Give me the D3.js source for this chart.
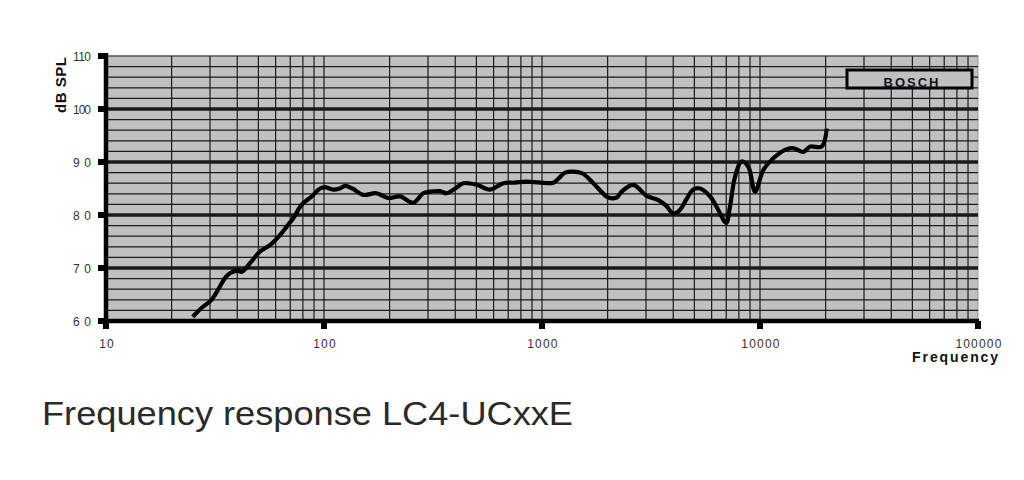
<!DOCTYPE html>
<html><head><meta charset="utf-8">
<script src="https://cdn.jsdelivr.net/npm/d3@7"></script>
<style>body{margin:0;background:#fff;} svg{display:block;}</style>
</head><body>
<svg id="c" width="1024" height="480"></svg>
<script>
const freqs = [25, 27.5, 30.5, 33.3, 35, 37, 40, 42, 46, 50.8, 56.5, 62.8, 68, 72.3, 78.9, 87.8, 95.9, 102, 110, 118, 125, 135, 151, 174, 197, 223, 257, 285, 306, 340, 365, 400, 436, 503, 577, 665, 750, 851, 980, 1128, 1200, 1276, 1522, 1719, 2014, 2200, 2318, 2622, 3020, 3414, 3700, 4000, 4300, 4600, 4944, 5305, 5902, 6447, 6989, 7285, 7680, 8240, 8840, 9490, 10360, 11510, 13030, 14230, 15820, 16950, 19180, 20230];
const splValues = [60.8, 62.5, 64, 66.5, 68, 69, 69.5, 69.3, 71, 73.1, 74.3, 76.2, 78, 79.4, 81.9, 83.5, 85, 85.2, 84.8, 85, 85.5, 85, 83.8, 84.1, 83.2, 83.5, 82.3, 84.1, 84.4, 84.5, 84.1, 85, 86, 85.7, 84.8, 86, 86.1, 86.3, 86.1, 86.1, 87, 88, 87.9, 86, 83.3, 83.3, 84.4, 85.7, 83.6, 82.8, 81.8, 80.3, 81, 83, 84.8, 85, 83.5, 80.9, 78.5, 81.6, 87.2, 90.1, 89.1, 84.4, 88.5, 90.7, 92.3, 92.6, 91.9, 92.9, 92.9, 96.3];
const xTickValues = [10, 100, 1000, 10000, 100000];
const xTickLabels = ["10", "100", "1000", "10000", "100000"];
const yTickValues = [60, 70, 80, 90, 100, 110];
const yTickLabels = ["60", "70", "80", "90", "100", "110"];
const yTitle = "dB SPL";
const xTitle = "Frequency";
const legendLabel = "BOSCH";
const chartTitle = "Frequency response LC4-UCxxE";

const svg = d3.select("#c");
const L = 106, R = 978, T = 56, B = 321;
const FONT = "Liberation Sans, Arial, sans-serif";
const x = d3.scaleLog().domain([10, 100000]).range([L, R]);
const y = d3.scaleLinear().domain([60, 110]).range([B, T]);

// background
svg.append("rect").attr("x", L).attr("y", T).attr("width", R - L).attr("height", B - T)
  .attr("fill", "#c0c0c0").attr("stroke", "#9a9a9a").attr("stroke-width", 1);

// vertical grid
const vgrid = [];
for (let d = 10; d < 100000; d *= 10) for (let k = 1; k <= 9; k++) { const v = d * k; if (v > 10) vgrid.push(v); }
svg.append("g").selectAll("line").data(vgrid).join("line")
  .attr("x1", d => x(d)).attr("x2", d => x(d)).attr("y1", T).attr("y2", B)
  .attr("stroke", "#1a1a1a").attr("stroke-width", 1.2);

// horizontal grid
const hgrid = d3.range(62, 110, 2);
svg.append("g").selectAll("line").data(hgrid).join("line")
  .attr("x1", L).attr("x2", R).attr("y1", d => y(d)).attr("y2", d => y(d))
  .attr("stroke", "#1a1a1a").attr("stroke-width", d => d % 10 === 0 ? 3.5 : 1.2);
svg.append("line").attr("x1", L).attr("x2", R).attr("y1", y(110)).attr("y2", y(110))
  .attr("stroke", "#333").attr("stroke-width", 1);

// axes lines
svg.append("line").attr("x1", L).attr("x2", L).attr("y1", T - 3).attr("y2", B + 6)
  .attr("stroke", "#000").attr("stroke-width", 4.5);
svg.append("line").attr("x1", L - 2).attr("x2", R + 1).attr("y1", B).attr("y2", B)
  .attr("stroke", "#000").attr("stroke-width", 4.5);

// y ticks
svg.append("g").selectAll("rect").data(yTickValues).join("rect")
  .attr("x", L - 8).attr("y", d => y(d) - 3).attr("width", 8).attr("height", 6).attr("fill", "#000");
svg.append("g").selectAll("text").data(yTickValues).join("text")
  .attr("x", 91).attr("y", d => y(d) + 4.5).attr("text-anchor", "end")
  .attr("font-family", FONT).attr("font-size", 12).attr("fill", "#333")
  .attr("textLength", 18).attr("lengthAdjust", "spacing")
  .text((d, i) => yTickLabels[i]);

// x ticks
svg.append("g").selectAll("rect").data(xTickValues).join("rect")
  .attr("x", d => x(d) - 3).attr("y", B).attr("width", 6).attr("height", 8).attr("fill", "#000");
svg.append("g").selectAll("text").data(xTickValues).join("text")
  .attr("x", d => x(d) + 1).attr("y", 348).attr("text-anchor", "middle")
  .attr("font-family", FONT).attr("font-size", 12).attr("fill", "#333")
  .attr("letter-spacing", 1.2)
  .text((d, i) => xTickLabels[i]);

// axis titles
svg.append("text").attr("transform", "translate(66,85) rotate(-90)").attr("text-anchor", "middle")
  .attr("font-family", FONT).attr("font-size", 15).attr("font-weight", "bold")
  .attr("fill", "#111").attr("textLength", 56).attr("lengthAdjust", "spacing").text(yTitle);
svg.append("text").attr("x", 1000).attr("y", 362).attr("text-anchor", "end")
  .attr("font-family", FONT).attr("font-size", 14).attr("font-weight", "bold")
  .attr("fill", "#111").attr("letter-spacing", 1.9).text(xTitle);

// legend box
svg.append("rect").attr("x", 847).attr("y", 70).attr("width", 125).attr("height", 18)
  .attr("fill", "#c0c0c0").attr("stroke", "#000").attr("stroke-width", 3);
svg.append("text").attr("x", 912).attr("y", 87).attr("text-anchor", "middle")
  .attr("font-family", FONT).attr("font-size", 13).attr("font-weight", "bold")
  .attr("fill", "#111").attr("letter-spacing", 2).text(legendLabel);

// curve
const line = d3.line().x((d, i) => x(freqs[i])).y(d => y(d)).curve(d3.curveCatmullRom.alpha(0.5));
svg.append("path").datum(splValues).attr("d", line)
  .attr("fill", "none").attr("stroke", "#000").attr("stroke-width", 4.2).attr("stroke-linejoin", "round");

// title
svg.append("text").attr("x", 42).attr("y", 425)
  .attr("font-family", FONT).attr("font-size", 34)
  .attr("fill", "#2a2a2a").attr("textLength", 531).attr("lengthAdjust", "spacingAndGlyphs").text(chartTitle);
</script>
</body></html>
